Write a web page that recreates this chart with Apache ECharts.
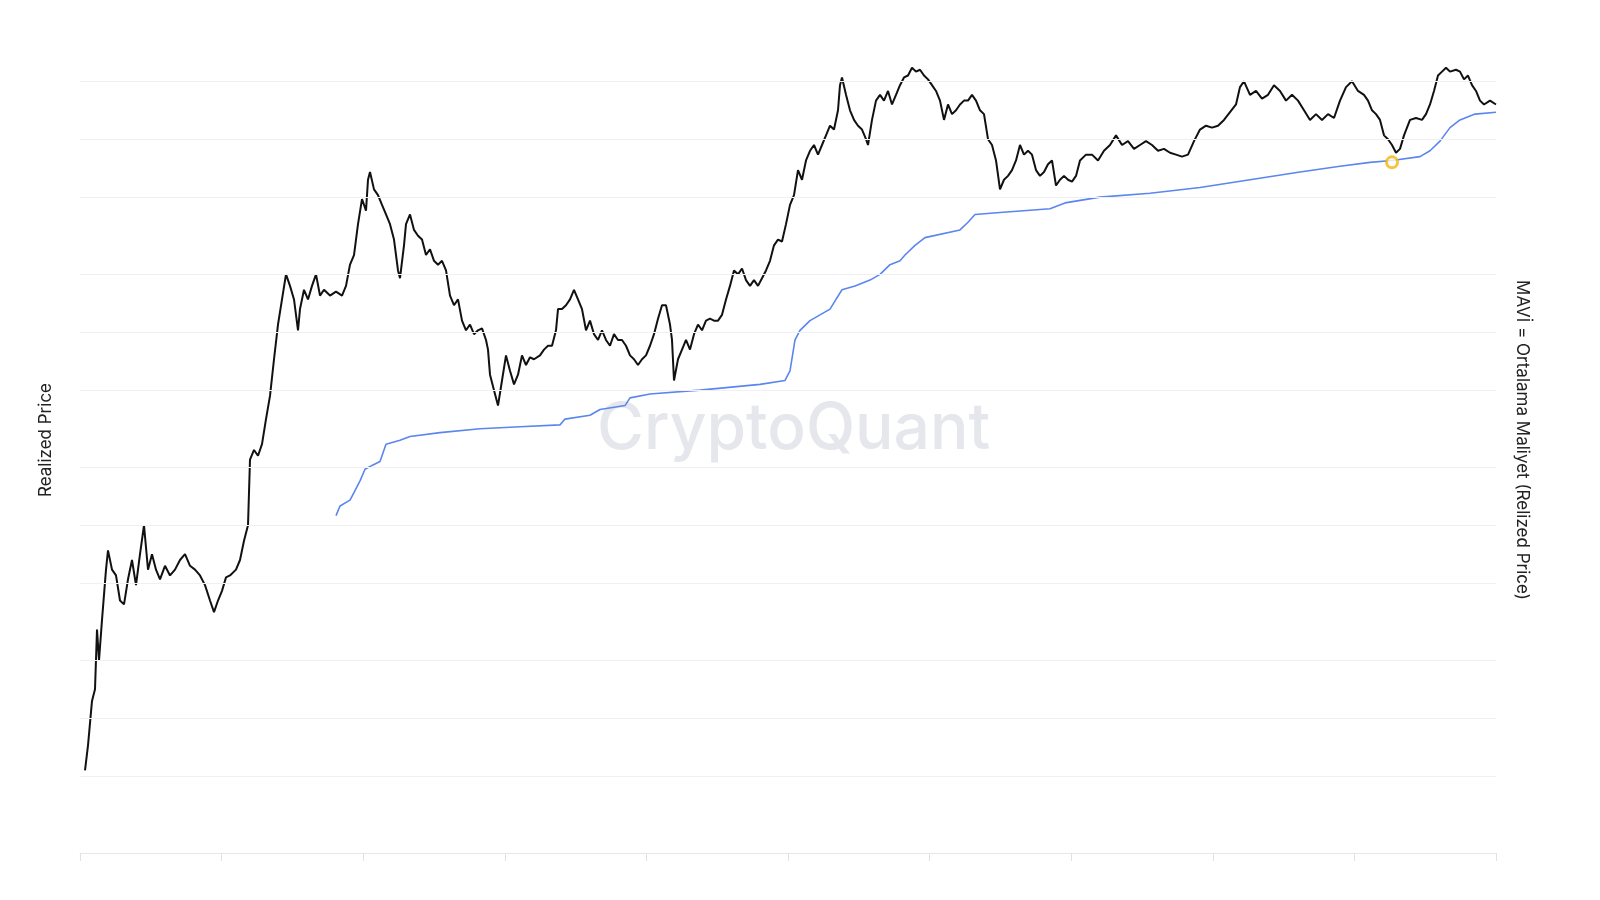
<!DOCTYPE html>
<html><head><meta charset="utf-8">
<script src="https://cdn.jsdelivr.net/npm/echarts@6/dist/echarts.min.js"></script>
<style>html,body{margin:0;padding:0;background:#fff;overflow:hidden;width:1600px;height:900px}#c{width:1600px;height:900px}</style>
</head><body><div id="c"></div>
<script>
// x: day index (0..1416), y: log10 of price
const priceX = [5,8,12,15,17,19,22,26,28,32,36,40,44,48,52,56,60,64,68,72,76,80,85,90,95,100,105,110,115,120,125,130,134,138,142,146,150,156,160,164,168,170,174,178,182,186,190,194,198,202,206,210,214,218,220,224,228,232,236,240,244,250,256,262,266,270,274,278,282,286,288,290,294,298,302,306,310,314,318,320,324,326,330,334,338,342,346,350,354,358,362,366,370,374,378,382,386,390,394,398,402,406,408,410,414,418,422,426,430,434,438,442,446,450,454,460,464,468,472,476,478,482,486,490,494,498,502,506,510,514,518,522,526,530,534,538,542,546,550,554,558,562,566,570,574,578,582,586,590,592,594,598,602,606,610,614,618,622,626,630,634,638,642,646,650,654,658,662,666,670,674,678,682,686,690,694,698,702,706,710,714,718,722,726,730,734,738,742,746,750,754,758,760,762,766,770,774,778,782,786,788,792,796,800,804,808,812,816,820,824,828,832,836,840,844,848,852,856,860,864,868,872,876,880,884,888,892,896,900,904,908,912,916,920,924,928,932,936,940,944,948,952,956,960,964,968,972,976,980,984,988,992,996,1000,1006,1012,1018,1024,1030,1036,1042,1048,1054,1060,1066,1072,1078,1084,1090,1096,1102,1108,1114,1120,1126,1132,1138,1144,1150,1156,1160,1164,1170,1176,1182,1188,1194,1200,1206,1212,1218,1224,1230,1236,1242,1248,1254,1260,1266,1272,1278,1284,1288,1292,1296,1300,1304,1308,1312,1316,1320,1324,1330,1336,1342,1346,1350,1354,1358,1362,1366,1370,1376,1380,1384,1388,1392,1396,1400,1404,1410,1416];
const priceLog = [1.03,1.16,1.39,1.45,1.76,1.60,1.81,2.07,2.17,2.07,2.04,1.91,1.89,2.02,2.12,1.99,2.15,2.30,2.07,2.15,2.07,2.02,2.09,2.04,2.07,2.12,2.15,2.09,2.07,2.04,1.99,1.91,1.85,1.91,1.96,2.03,2.04,2.07,2.12,2.22,2.30,2.64,2.69,2.66,2.72,2.85,2.97,3.16,3.34,3.47,3.60,3.54,3.47,3.31,3.42,3.52,3.47,3.54,3.60,3.49,3.52,3.49,3.51,3.49,3.54,3.65,3.70,3.86,3.99,3.93,4.09,4.13,4.04,4.01,3.96,3.91,3.86,3.78,3.62,3.58,3.75,3.86,3.91,3.83,3.80,3.78,3.70,3.73,3.67,3.65,3.67,3.62,3.49,3.44,3.47,3.36,3.31,3.34,3.29,3.31,3.32,3.26,3.21,3.08,3.00,2.92,3.05,3.18,3.10,3.03,3.08,3.18,3.13,3.17,3.16,3.18,3.21,3.23,3.23,3.31,3.42,3.42,3.44,3.47,3.52,3.47,3.42,3.31,3.36,3.29,3.26,3.31,3.26,3.23,3.29,3.26,3.26,3.23,3.18,3.16,3.13,3.16,3.18,3.23,3.29,3.37,3.44,3.44,3.34,3.26,3.05,3.16,3.21,3.26,3.21,3.29,3.34,3.31,3.36,3.37,3.36,3.36,3.39,3.47,3.54,3.62,3.60,3.63,3.57,3.54,3.57,3.54,3.58,3.62,3.67,3.75,3.78,3.77,3.86,3.96,4.01,4.14,4.09,4.19,4.24,4.27,4.22,4.27,4.32,4.37,4.35,4.45,4.58,4.62,4.53,4.45,4.40,4.37,4.35,4.30,4.27,4.40,4.50,4.53,4.50,4.55,4.48,4.53,4.58,4.62,4.63,4.67,4.65,4.66,4.63,4.61,4.58,4.55,4.50,4.40,4.48,4.43,4.45,4.48,4.50,4.50,4.53,4.50,4.45,4.43,4.30,4.27,4.19,4.04,4.09,4.11,4.14,4.19,4.27,4.22,4.24,4.22,4.14,4.11,4.13,4.17,4.19,4.06,4.09,4.11,4.09,4.08,4.11,4.19,4.22,4.22,4.19,4.24,4.27,4.32,4.27,4.29,4.25,4.27,4.29,4.27,4.24,4.25,4.23,4.22,4.21,4.22,4.29,4.35,4.37,4.36,4.37,4.40,4.44,4.48,4.57,4.60,4.53,4.55,4.51,4.53,4.58,4.55,4.50,4.53,4.50,4.45,4.40,4.43,4.40,4.43,4.41,4.50,4.57,4.60,4.55,4.53,4.50,4.45,4.43,4.40,4.32,4.30,4.27,4.23,4.25,4.32,4.40,4.41,4.40,4.43,4.48,4.55,4.63,4.65,4.67,4.65,4.66,4.65,4.61,4.63,4.58,4.55,4.50,4.48,4.50,4.48,4.51];
const realizedX = [256,260,270,275,280,285,292,300,304,306,320,330,360,400,440,480,485,510,520,545,550,570,620,680,705,710,715,720,730,750,756,762,775,790,800,810,820,825,835,845,880,888,895,920,970,985,1020,1070,1120,1170,1220,1260,1290,1312,1340,1350,1360,1370,1380,1395,1416];
const realizedLog = [2.35,2.40,2.43,2.48,2.53,2.59,2.61,2.63,2.69,2.72,2.74,2.76,2.78,2.80,2.81,2.82,2.85,2.87,2.90,2.92,2.96,2.98,3.00,3.03,3.05,3.10,3.26,3.31,3.36,3.42,3.47,3.52,3.54,3.57,3.60,3.65,3.67,3.70,3.75,3.79,3.83,3.87,3.91,3.92,3.94,3.97,4.00,4.02,4.05,4.09,4.13,4.16,4.18,4.19,4.21,4.24,4.29,4.36,4.40,4.43,4.44];
const gridLog = [1,1.301,1.602,2,2.301,2.602,3,3.301,3.602,4,4.301,4.602];
const markerPoint = [1312, 4.18];

const zip = (xs, ys) => xs.map((x, i) => [x, ys[i]]);
const chart = echarts.init(document.getElementById('c'));
chart.setOption({
  animation: false,
  grid: {left: 80, right: 104, top: 40, bottom: 47, outerBoundsMode: 'none', containLabel: false},
  xAxis: {type: 'value', min: 0, max: 1416, interval: 141.6,
    axisLine: {lineStyle: {color: '#e6e7ec'}}, axisTick: {show: true, length: 8, lineStyle: {color: '#e0e1e6'}},
    axisLabel: {show: false}, splitLine: {show: false}},
  yAxis: {type: 'value', min: 0.602, max: 4.814, axisLine: {show: false}, axisTick: {show: false},
    axisLabel: {show: false}, splitLine: {show: false}},
  graphic: [
    {type: 'text', left: 597, top: 398, style: {text: 'CryptoQuant', font: '500 64px Inter, sans-serif', fill: 'rgba(205,207,220,0.5)', shadowBlur: 4, shadowColor: 'rgba(205,207,220,0.5)'}, z: 0},
    {type: 'text', x: 46, y: 440, rotation: Math.PI/2, style: {text: 'Realized Price', font: '17px Inter, sans-serif', fill: '#222', align: 'center', verticalAlign: 'middle'}},
    {type: 'text', x: 1522, y: 440, rotation: -Math.PI/2, style: {text: 'MAVİ = Ortalama Maliyet (Relized Price)', font: '17px Inter, sans-serif', fill: '#222', align: 'center', verticalAlign: 'middle'}}
  ],
  series: [
    {type: 'line', data: zip(priceX, priceLog), showSymbol: false, lineStyle: {color: '#111', width: 2}, z: 3,
      markLine: {silent: true, symbol: 'none', label: {show: false}, lineStyle: {color: '#f0f0f3', type: 'solid', width: 1},
        data: gridLog.map(v => ({yAxis: v}))}},
    {type: 'line', data: zip(realizedX, realizedLog), showSymbol: false, lineStyle: {color: '#5a86ee', width: 1.6}, z: 2},
    {type: 'scatter', data: [markerPoint], symbol: 'circle', symbolSize: 11,
      itemStyle: {color: '#fff', borderColor: '#f5b50a', borderWidth: 3}, z: 5}
  ]
});
</script></body></html>
